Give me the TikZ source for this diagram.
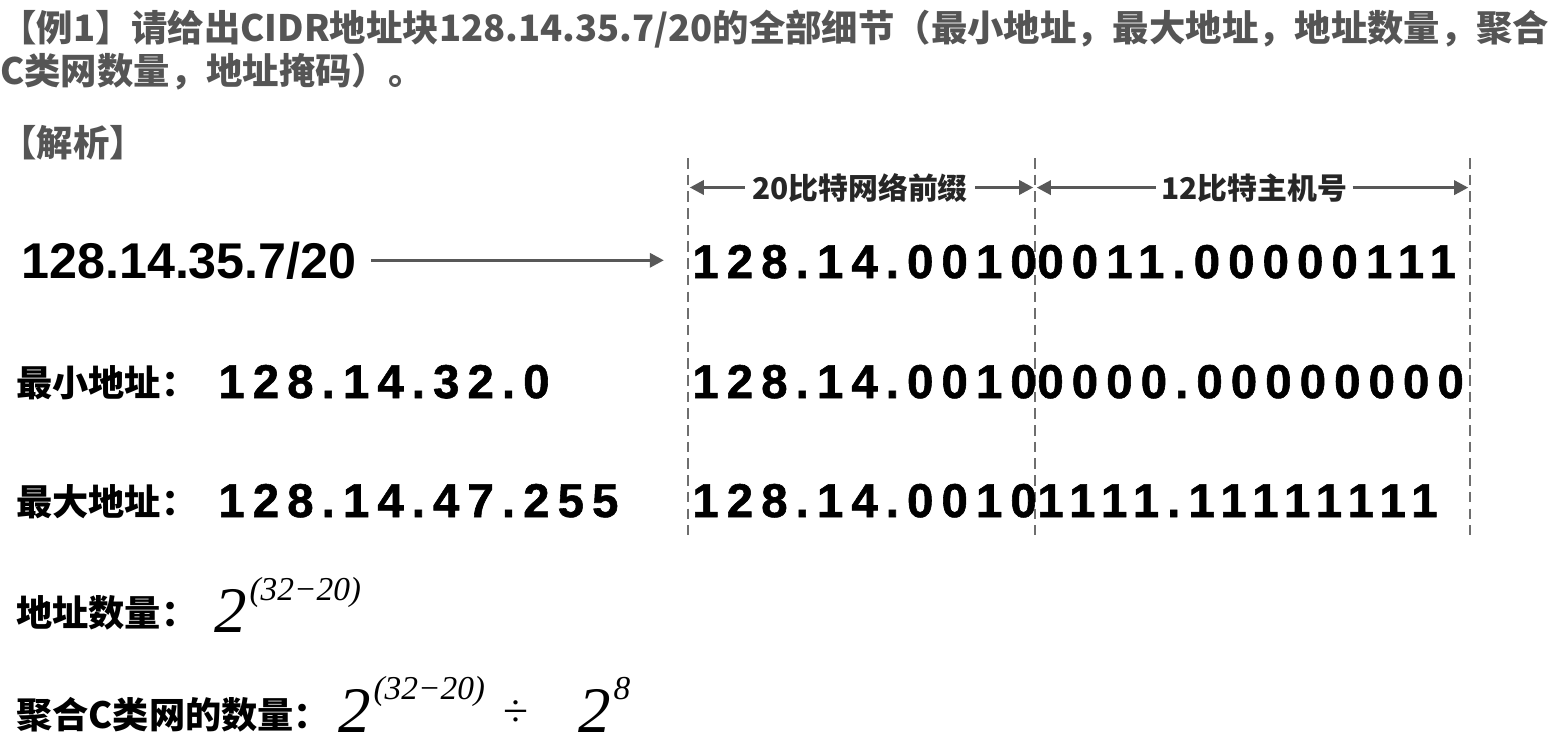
\documentclass[tikz,border=0pt]{standalone}
\usepackage{fontspec}
\usetikzlibrary{arrows.meta,positioning,calc}
\setmainfont{Liberation Sans}
\newfontfamily\cjkfont{Noto Sans CJK SC}
\newfontfamily\ipfont{Liberation Sans}
\newfontfamily\binfont{Liberation Sans}[LetterSpace=17,FakeBold=1.2]
\newfontfamily\timesfont{Liberation Serif}
\definecolor{headgray}{RGB}{85,85,85}
\definecolor{arrgray}{RGB}{88,88,88}
\definecolor{dashgray}{RGB}{110,110,110}
\tikzset{
  txt/.style={inner sep=0pt,anchor=base west},
  head/.style={txt,font=\cjkfont\bfseries\fontsize{20.7}{24}\selectfont,text=headgray},
  lbl/.style={txt,font=\cjkfont\bfseries\fontsize{20.6}{24}\selectfont},
  spanlbl/.style={inner sep=0pt,anchor=base,font=\cjkfont\bfseries\fontsize{17}{20}\selectfont,text=black!85},
  ip/.style={txt,font=\ipfont\bfseries\fontsize{28.6}{32}\selectfont},
  bin/.style={txt,font=\binfont\bfseries\fontsize{27}{30}\selectfont},
  mbig/.style={txt,font=\timesfont\itshape\fontsize{37}{40}\selectfont},
  msup/.style={txt,font=\timesfont\itshape\fontsize{19}{22}\selectfont},
  sep/.style={dashgray,line width=1.1pt,dash pattern=on 6pt off 3.5pt},
  arr/.style={-{Triangle[length=8pt,width=8pt]},arrgray,line width=1.8pt},
}
\begin{document}
\begin{tikzpicture}[x=0.02cm,y=-0.02cm]
  \fill[white] (0,0) rectangle (1564,745);
  \useasboundingbox (0,0) rectangle (1564,745);
  % question and heading
  \node[head] (q1) at (0,41) {【例1】请给出CIDR地址块128.14.35.7/20的全部细节（最小地址，最大地址，地址数量，聚合};
  \node[head] (q2) at (0,84) {C类网数量，地址掩码）。};
  \node[head] (ans) at (0,156) {【解析】};
  % bit boundaries
  \foreach \n/\x in {1/688,2/1035,3/1470}{
    \coordinate (s\n t) at (\x,158);
    \coordinate (s\n b) at (\x,535);
    \draw[sep] (s\n t) -- (s\n b);
  }
  \node[spanlbl] (pfx) at (860,199) {20比特网络前缀};
  \node[spanlbl] (host) at (1254,199) {12比特主机号};
  \draw[arr,shorten <=4pt,shorten >=1pt] (pfx.west) -- (s1t |- pfx.west);
  \draw[arr,shorten <=4pt,shorten >=1pt] (pfx.east) -- (s2t |- pfx.east);
  \draw[arr,shorten <=3pt,shorten >=1pt] (host.west) -- (s2t |- host.west);
  \draw[arr,shorten <=3pt,shorten >=1pt] (host.east) -- (s3t |- host.east);
  % given block
  \node[ip] (blk) at (21,278) {128.14.35.7/20};
  \node[bin] (bin1a) at (692,278) {128.14.0010};
  \node[bin] (bin1b) at (1037,278) {0011.00000111};
  \draw[arr,shorten <=8pt,shorten >=16pt] (blk.east) -- (blk.east -| bin1a.west);
  % smallest address
  \node[lbl] (minl) at (16,396) {最小地址：};
  \node[bin] (mina) at (218,398) {128.14.32.0};
  \node[bin] (bin2a) at (692,398) {128.14.0010};
  \node[bin] (bin2b) at (1037,398) {0000.00000000};
  % largest address
  \node[lbl] (maxl) at (16,515) {最大地址：};
  \node[bin] (maxa) at (218,517) {128.14.47.255};
  \node[bin] (bin3a) at (692,517) {128.14.0010};
  \node[bin] (bin3b) at (1037,517) {1111.11111111};
  % counts
  \node[lbl] (cntl) at (16,626) {地址数量：};
  \node[mbig] (cnt) at (214,632) {2};
  \node[msup] (cntexp) at ($(cnt.base east)+(2,-32)$) {(32−20)};
  \node[lbl] (aggl) at (16,728) {聚合C类网的数量：};
  \node[mbig] (agg) at (338,732) {2};
  \node[msup] (aggexp) at ($(agg.base east)+(2,-33)$) {(32−20)};
  \node[txt,font=\timesfont\fontsize{26}{28}\selectfont] (divs) at (503,726) {÷};
  \node[mbig] (cls) at (578,732) {2};
  \node[msup] (clsexp) at ($(cls.base east)+(2,-33)$) {8};
\end{tikzpicture}
\end{document}
